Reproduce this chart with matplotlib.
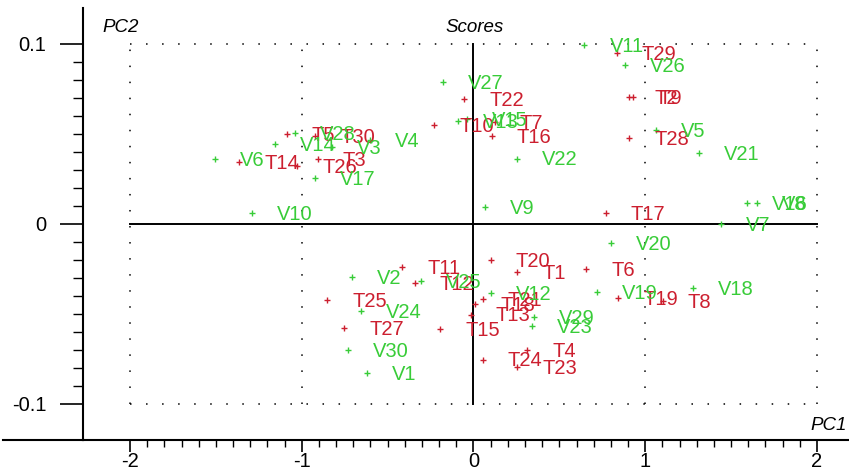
import numpy as np
import matplotlib.pyplot as plt
from matplotlib.lines import Line2D

plt.rcParams['font.family'] = ['Liberation Sans', 'DejaVu Sans']

# red "T" scores
t_labels = ['T1', 'T2', 'T3', 'T4', 'T5', 'T6', 'T7', 'T8', 'T9', 'T10',
            'T11', 'T12', 'T13', 'T14', 'T15', 'T16', 'T17', 'T18', 'T19', 'T20',
            'T21', 'T22', 'T23', 'T24', 'T25', 'T26', 'T27', 'T28', 'T29', 'T30']
t_x = [0.255, 0.907, -0.907, 0.313, -1.088, 0.657, 0.125, 1.102, 0.929, -0.230,
       -0.416, -0.341, -0.015, -1.364, -0.195, 0.106, 0.769, 0.009, 0.843, 0.100,
       0.055, -0.054, 0.255, 0.055, -0.851, -1.025, -0.752, 0.907, 0.834, -0.923]
t_y = [-0.0265, 0.0707, 0.0359, -0.0700, 0.0500, -0.0252, 0.0568, -0.0429, 0.0707, 0.0550,
       -0.0239, -0.0326, -0.0503, 0.0342, -0.0585, 0.0489, 0.0059, -0.0447, -0.0411, -0.0200,
       -0.0419, 0.0694, -0.0793, -0.0753, -0.0422, 0.0322, -0.0578, 0.0478, 0.0948, 0.0486]

# green "V" scores
v_labels = ['V1', 'V2', 'V3', 'V4', 'V5', 'V6', 'V7', 'V8', 'V9', 'V10',
            'V11', 'V12', 'V13', 'V14', 'V15', 'V16', 'V17', 'V18', 'V19', 'V20',
            'V21', 'V22', 'V23', 'V24', 'V25', 'V26', 'V27', 'V28', 'V29', 'V30']
v_x = [-0.622, -0.706, -0.826, -0.603, 1.063, -1.506, 1.441, 1.649, 0.067, -1.288,
       0.646, 0.100, -0.089, -1.156, -0.038, 1.591, -0.925, 1.280, 0.719, 0.798,
       1.313, 0.253, 0.339, -0.653, -0.305, 0.884, -0.176, -1.040, 0.352, -0.729]
v_y = [-0.0829, -0.0293, 0.0429, 0.0467, 0.0522, 0.0360, -0.0003, 0.0115, 0.0093, 0.0059,
       0.0994, -0.0386, 0.0571, 0.0446, 0.0583, 0.0115, 0.0257, -0.0357, -0.0379, -0.0107,
       0.0393, 0.0363, -0.0567, -0.0482, -0.0315, 0.0885, 0.0789, 0.0506, -0.0518, -0.0700]

x_major = [-2, -1, 0, 1, 2]
y_major = [-0.1, 0, 0.1]
y_ticklabels = ['-0.1', '0', '0.1']

red = '#cc1f2f'
green = '#38cc38'
fs = 14.5

fig = plt.figure(figsize=(8.49, 4.73), dpi=100)
ax = fig.add_axes([0.0981, 0.0698, 0.9019, 0.9127])
ax.set_xlim(-2.2726, 2.187)
ax.set_ylim(-0.12, 0.1198)

# dotted frame and grid
dot = dict(color='black', lw=1.1, linestyle=(0, (1, 9.5)))
ax.plot([-2, 2], [0.1, 0.1], **dot)
ax.plot([-2, 2], [-0.1, -0.1], **dot)
for gx in [-2, -1, 1, 2]:
    ax.plot([gx, gx], [-0.1, 0.1], **dot)

# solid zero lines
ax.plot([-2, 2], [0, 0], color='black', lw=1.4)
ax.plot([0, 0], [-0.1, 0.1], color='black', lw=1.4)

# points and labels
ax.plot(t_x, t_y, '+', color=red, ms=4, mew=1.0, ls='none')
ax.plot(v_x, v_y, '+', color=green, ms=4, mew=1.0, ls='none')
for lbl, x, y in zip(t_labels, t_x, t_y):
    ax.annotate(lbl, (x, y), xytext=(18, -1), textcoords='offset points',
                color=red, fontsize=fs, va='center', ha='left')
for lbl, x, y in zip(v_labels, v_x, v_y):
    ax.annotate(lbl, (x, y), xytext=(18, -1), textcoords='offset points',
                color=green, fontsize=fs, va='center', ha='left')

# axes styling
for side in ['top', 'right']:
    ax.spines[side].set_visible(False)
for side in ['left', 'bottom']:
    ax.spines[side].set_linewidth(1.5)

ax.set_xticks(x_major)
ax.set_xticklabels([str(v) for v in x_major])
ax.set_xticks([v for v in np.round(np.arange(-2, 2.01, 0.1), 2) if v not in x_major], minor=True)
ax.set_yticks(y_major)
ax.set_yticklabels(y_ticklabels)
ax.set_yticks([v for v in np.round(np.arange(-0.1, 0.101, 0.01), 3) if v not in (-0.1, 0.0, 0.1)], minor=True)
ax.tick_params(axis='x', which='major', length=8.6, width=1.2, pad=0, labelsize=fs)
ax.tick_params(axis='x', which='minor', length=5, width=1.0)
ax.tick_params(axis='y', which='major', length=16.5, width=1.2, pad=10, labelsize=fs)
ax.tick_params(axis='y', which='minor', length=7, width=1.0)

# bottom axis line extends left past the y axis
fig.add_artist(Line2D([3 / 849, 83.3 / 849], [1 - 440 / 473] * 2, color='black', lw=1.5))

# axis titles
fig.text(102 / 849, 1 - 27 / 473, 'PC2', fontsize=fs - 1, style='italic', ha='left', va='center')
fig.text(474.5 / 849, 1 - 27.5 / 473, 'Scores', fontsize=fs - 1, style='italic', ha='center', va='center')
fig.text(847 / 849, 1 - 425 / 473, 'PC1', fontsize=fs - 1, style='italic', ha='right', va='center')

fig.savefig('out.png', dpi=100)
